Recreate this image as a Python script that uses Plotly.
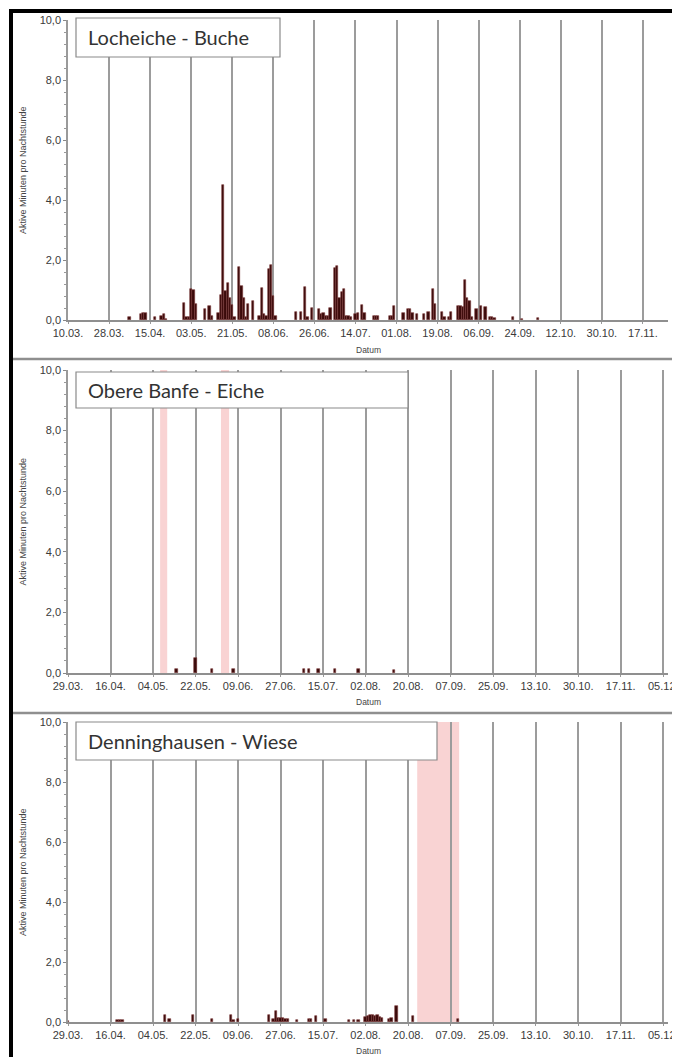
import datetime as dt
import plotly.graph_objects as go

# ---------------- data ----------------
TITLES = ["Locheiche - Buche", "Obere Banfe - Eiche", "Denninghausen - Wiese"]
Y_TITLE = "Aktive Minuten pro Nachtstunde"
X_TITLE = "Datum"

TICKS_1 = ["10.03.", "28.03.", "15.04.", "03.05.", "21.05.", "08.06.", "26.06.", "14.07.",
           "01.08.", "19.08.", "06.09.", "24.09.", "12.10.", "30.10.", "17.11."]
TICKS_23 = ["29.03.", "16.04.", "04.05.", "22.05.", "09.06.", "27.06.", "15.07.", "02.08.",
            "20.08.", "07.09.", "25.09.", "13.10.", "30.10.", "17.11.", "05.12."]

START_1 = "2013-03-10"
START_23 = "2013-03-29"
TICK_STEP_DAYS = 18
SPAN_DAYS_1 = 263
SPAN_DAYS_23 = 254

loch_dates = ["04-06", "04-11", "04-12", "04-13", "04-17", "04-20", "04-21", "04-22", "04-30",
              "05-01", "05-02", "05-03", "05-04", "05-05", "05-09", "05-11", "05-12", "05-15",
              "05-16", "05-17", "05-18", "05-19", "05-20", "05-21", "05-22", "05-24", "05-25",
              "05-26", "05-27", "05-28", "05-30", "06-02", "06-03", "06-04", "06-05", "06-06",
              "06-07", "06-08", "06-09", "06-18", "06-20", "06-22", "06-23", "06-25", "06-28",
              "06-29", "06-30", "07-01", "07-02", "07-03", "07-05", "07-06", "07-07", "07-08",
              "07-09", "07-10", "07-11", "07-12", "07-14", "07-15", "07-17", "07-18", "07-22",
              "07-23", "07-24", "07-29", "07-30", "07-31", "08-04", "08-06", "08-07", "08-08",
              "08-10", "08-13", "08-15", "08-17", "08-18", "08-21", "08-22", "08-24", "08-25",
              "08-28", "08-29", "08-30", "08-31", "09-01", "09-02", "09-03", "09-05", "09-07",
              "09-09", "09-11", "09-12", "09-13", "09-21", "09-25", "10-02"]
loch_values = [0.10, 0.20, 0.22, 0.22, 0.10, 0.15, 0.20, 0.05, 0.56,
               0.10, 0.10, 1.02, 1.00, 0.55, 0.37, 0.47, 0.15, 0.25,
               0.85, 4.50, 0.96, 1.24, 0.74, 0.50, 0.10, 1.78, 1.15,
               0.74, 0.10, 0.52, 0.63, 0.15, 1.07, 0.20, 0.15, 1.70,
               1.85, 0.80, 0.15, 0.28, 0.28, 1.10, 0.10, 0.40, 0.37,
               0.20, 0.25, 0.15, 0.12, 0.40, 1.75, 1.80, 0.75, 0.95,
               1.05, 0.15, 0.15, 0.10, 0.20, 0.25, 0.50, 0.25, 0.12,
               0.12, 0.12, 0.12, 0.12, 0.47, 0.22, 0.37, 0.37, 0.25,
               0.20, 0.20, 0.28, 1.05, 0.55, 0.28, 0.10, 0.10, 0.28,
               0.47, 0.47, 0.42, 1.33, 0.75, 0.65, 0.10, 0.37, 0.47,
               0.42, 0.10, 0.10, 0.08, 0.10, 0.05, 0.08]

banfe_dates = ["05-14", "05-22", "05-29", "06-07", "07-07", "07-09", "07-13", "07-20", "07-30", "08-14"]
banfe_values = [0.12, 0.50, 0.12, 0.12, 0.12, 0.12, 0.12, 0.12, 0.12, 0.09]

denn_dates = ["03-29", "04-19", "04-20", "04-21", "05-09", "05-11", "05-21", "05-29", "06-06",
              "06-07", "06-09", "06-22", "06-24", "06-25", "06-26", "06-27", "06-28", "06-29",
              "06-30", "07-04", "07-09", "07-10", "07-12", "07-16", "07-26", "07-28", "07-30",
              "08-02", "08-03", "08-04", "08-05", "08-06", "08-07", "08-08", "08-09", "08-12",
              "08-13", "08-15", "08-22", "09-10"]
denn_values = [0.05, 0.07, 0.08, 0.06, 0.22, 0.10, 0.22, 0.10, 0.25,
               0.08, 0.10, 0.22, 0.10, 0.38, 0.15, 0.12, 0.12, 0.10,
               0.10, 0.08, 0.10, 0.10, 0.20, 0.10, 0.08, 0.08, 0.08,
               0.18, 0.20, 0.22, 0.22, 0.20, 0.22, 0.18, 0.15, 0.10,
               0.12, 0.53, 0.20, 0.10]

# periods without recording (pink)
gaps_banfe = [("2013-05-07", "2013-05-10"), ("2013-06-01 18:00", "2013-06-05 05:00")]
gaps_denn = [("2013-08-23 20:00", "2013-09-10 14:00")]

YEAR = "2013"

# ---------------- layout helpers ----------------
PAGE_OFFSET = 8                      # default body margin of the html page
W, H = 680 - PAGE_OFFSET, 1057 - PAGE_OFFSET
PLOT_LEFT, PLOT_RIGHT = 68, 668
PANELS_PX = [(20, 320), (370, 673), (722, 1022)]      # top, bottom of plot areas (page px)
BOXES_PX = [(76, 18, 280, 57), (76, 372, 408, 408), (76, 722, 437, 760)]
DATUM_Y_PX = [350, 702, 1051]


def px_x(x):
    return (x - PAGE_OFFSET) / W


def px_y(y):
    return 1 - (y - PAGE_OFFSET) / H


def ticks(start, n):
    s = dt.datetime.fromisoformat(start)
    return [(s + dt.timedelta(days=TICK_STEP_DAYS * k)).strftime("%Y-%m-%d") for k in range(n)]


def span(start, days):
    s = dt.datetime.fromisoformat(start)
    return [s.strftime("%Y-%m-%d"), (s + dt.timedelta(days=days)).strftime("%Y-%m-%d %H:%M")]


BAR_FILL = "#3a0a0a"
BAR_EDGE = "#7e3b3b"
GRID = "#9c9c9c"
TICK_FONT = dict(family="Liberation Sans, Arial", size=11, color="#3a3a3a")

fig = go.Figure()

series = [(loch_dates, loch_values), (banfe_dates, banfe_values), (denn_dates, denn_values)]
for i, (dates, vals) in enumerate(series):
    sfx = "" if i == 0 else str(i + 1)
    fig.add_trace(go.Bar(
        x=[f"{YEAR}-{d}" for d in dates], y=vals,
        xaxis="x" + sfx, yaxis="y" + sfx,
        width=86400000 * 1.0,
        marker=dict(color=BAR_FILL, line=dict(color=BAR_EDGE, width=0.6)),
        showlegend=False,
    ))

layout = dict(
    width=W, height=H,
    margin=dict(l=0, r=0, t=0, b=0),
    paper_bgcolor="white", plot_bgcolor="white",
    separators=",.",
    bargap=0,
    shapes=[], annotations=[],
)

for i in range(3):
    sfx = "" if i == 0 else str(i + 1)
    top, bot = PANELS_PX[i]
    start = START_1 if i == 0 else START_23
    labels = TICKS_1 if i == 0 else TICKS_23
    days = SPAN_DAYS_1 if i == 0 else SPAN_DAYS_23
    layout["xaxis" + sfx] = dict(
        type="date", domain=[px_x(PLOT_LEFT), px_x(PLOT_RIGHT)], anchor="y" + sfx,
        range=span(start, days),
        tickmode="array", tickvals=ticks(start, len(labels)), ticktext=labels,
        showgrid=True, gridcolor=GRID, gridwidth=2,
        showline=True, linecolor="#8f8f8f", linewidth=2,
        ticks="outside", ticklen=2, tickcolor="#999",
        tickfont=TICK_FONT, automargin=False, fixedrange=True,
    )
    layout["yaxis" + sfx] = dict(
        domain=[px_y(bot), px_y(top)], anchor="x" + sfx,
        range=[0, 10], dtick=2, tick0=0, tickformat=".1f",
        showgrid=False, zeroline=False,
        showline=True, linecolor="#9a9a9a", linewidth=1.5,
        ticks="outside", ticklen=3, tickcolor="#888",
        minor=dict(dtick=0.4, tick0=0, ticks="outside", ticklen=2, tickcolor="#999"),
        tickfont=TICK_FONT, automargin=False, fixedrange=True,
    )
    # y axis title
    layout["annotations"].append(dict(
        text=Y_TITLE, xref="paper", yref="paper", x=px_x(23), y=px_y((top + bot) / 2),
        textangle=-90, showarrow=False, xanchor="center", yanchor="middle",
        font=dict(family="Liberation Sans, Arial", size=9, color="#444"),
    ))
    # x axis title
    layout["annotations"].append(dict(
        text=X_TITLE, xref="paper", yref="paper", x=px_x((PLOT_LEFT + PLOT_RIGHT) / 2),
        y=px_y(DATUM_Y_PX[i]), showarrow=False, xanchor="center", yanchor="middle",
        font=dict(family="Liberation Sans, Arial", size=8.5, color="#444"),
    ))

# pink gaps (drawn below grid lines)
for (a, b) in gaps_banfe:
    layout["shapes"].append(dict(type="rect", xref="x2", yref="y2 domain", x0=a, x1=b, y0=0, y1=1,
                                 fillcolor="#f9d3d3", line=dict(width=0), layer="below"))
for (a, b) in gaps_denn:
    layout["shapes"].append(dict(type="rect", xref="x3", yref="y3 domain", x0=a, x1=b, y0=0, y1=1,
                                 fillcolor="#f9d3d3", line=dict(width=0), layer="below"))

# title boxes
for i, (x0, y0, x1, y1) in enumerate(BOXES_PX):
    layout["shapes"].append(dict(type="rect", xref="paper", yref="paper",
                                 x0=px_x(x0), x1=px_x(x1), y0=px_y(y1), y1=px_y(y0),
                                 fillcolor="white", line=dict(color="#8a8a8a", width=1.2),
                                 layer="above"))
    layout["annotations"].append(dict(
        text=TITLES[i], xref="paper", yref="paper", x=px_x(x0 + 10), y=px_y((y0 + y1) / 2),
        showarrow=False, xanchor="left", yanchor="middle",
        font=dict(family="Lato, Open Sans", size=20, color="#333"),
    ))

# frame lines: black border left/top, grey separators between panels
layout["shapes"] += [
    dict(type="line", xref="paper", yref="paper", x0=px_x(11), x1=px_x(11), y0=px_y(9), y1=0,
         line=dict(color="black", width=4), layer="above"),
    dict(type="line", xref="paper", yref="paper", x0=px_x(9), x1=1, y0=px_y(11), y1=px_y(11),
         line=dict(color="black", width=4), layer="above"),
    dict(type="line", xref="paper", yref="paper", x0=px_x(13), x1=1, y0=px_y(359), y1=px_y(359),
         line=dict(color="#8f8f8f", width=2.5), layer="above"),
    dict(type="line", xref="paper", yref="paper", x0=px_x(13), x1=1, y0=px_y(713), y1=px_y(713),
         line=dict(color="#8f8f8f", width=2.5), layer="above"),
]

fig.update_layout(**layout)
fig.write_html("out.html")
